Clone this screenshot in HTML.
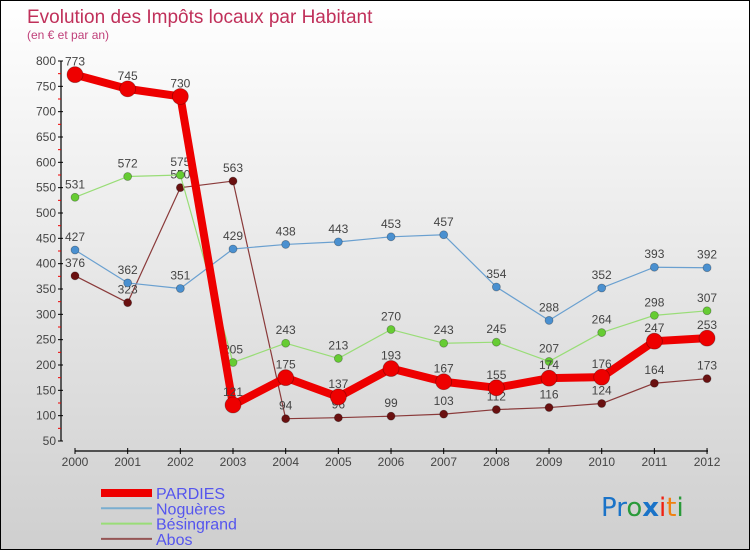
<!DOCTYPE html>
<html><head><meta charset="utf-8"><style>
body{margin:0}
#c{width:748px;height:548px;border:1px solid #000;background:linear-gradient(#ffffff,#cfcfcf);position:relative;font-family:"Liberation Sans",sans-serif;overflow:hidden}
</style></head><body>
<div id="c">
<svg id="s" width="748" height="548" xmlns="http://www.w3.org/2000/svg">
<text x="26" y="22" font-size="19" fill="#c0305a">Evolution des Impôts locaux par Habitant</text>
<text x="26" y="38" font-size="12" fill="#c0407a">(en € et par an)</text>
<text x="600" y="515" font-size="26" font-family="DejaVu Sans"><tspan fill="#1a73c8">Pr</tspan><tspan fill="#2a9a3a">o</tspan><tspan fill="#1a73c8" font-weight="bold">x</tspan><tspan fill="#f02010">i</tspan><tspan fill="#f08010">t</tspan><tspan fill="#2a9a3a">i</tspan></text>
</svg>
</div>
<script>
const years=["2000","2001","2002","2003","2004","2005","2006","2007","2008","2009","2010","2011","2012"];
const yTicks=[50,100,150,200,250,300,350,400,450,500,550,600,650,700,750,800];
const pardies=[773,745,730,121,175,137,193,167,155,174,176,247,253];
const nogueres=[427,362,351,429,438,443,453,457,354,288,352,393,392];
const besingrand=[531,572,575,205,243,213,270,243,245,207,264,298,307];
const abos=[376,323,550,563,94,96,99,103,112,116,124,164,173];
const svg=document.getElementById('s');const NS="http://www.w3.org/2000/svg";
function X(i){return 74+i*52.67;}
function Y(v){return 60+(800-v)*380/750;}
function mk(t,a,p){const e=document.createElementNS(NS,t);for(const k in a)e.setAttribute(k,a[k]);(p||svg).appendChild(e);return e;}
const ax=mk('g',{});


mk('line',{x1:60,y1:60,x2:60,y2:440,stroke:'#000','stroke-width':1.2},ax);
mk('line',{x1:74,y1:450,x2:707,y2:450,stroke:'#000','stroke-width':1.2},ax);
yTicks.forEach(v=>{const y=Y(v);mk('line',{x1:57,y1:y,x2:62,y2:y,stroke:'#000'},ax);
if(v<800)mk('line',{x1:57,y1:Y(v+25),x2:60,y2:Y(v+25),stroke:'#e00'},ax);
const t=mk('text',{x:55,y:y+4,'font-size':12,fill:'#444','text-anchor':'end'},ax);t.textContent=v;

});
years.forEach((yr,i)=>{const x=X(i);mk('line',{x1:x,y1:447,x2:x,y2:453,stroke:'#000'},ax);
const t=mk('text',{x:x,y:465,'font-size':12,fill:'#444','text-anchor':'middle'},ax);t.textContent=yr;

});
function series(name,vals,col,dot,w,r){const g=mk('g',{});


mk('polyline',{points:vals.map((v,i)=>X(i)+','+Y(v)).join(' '),fill:'none',stroke:col,'stroke-width':w,'stroke-linejoin':'round'},g);
vals.forEach((v,i)=>{const c=mk('circle',{cx:X(i),cy:Y(v),r:r,fill:dot,stroke:'rgba(0,0,0,0.3)','stroke-width':0.8},g);


const t=mk('text',{x:X(i),y:Y(v)-9,'font-size':12,fill:'#444','text-anchor':'middle'},g);t.textContent=v;

});}
series('abos',abos,'#8a3a3a','#6a1010',1.2,4);
series('besingrand',besingrand,'#99dd77','#66cc33',1.2,4);
series('nogueres',nogueres,'#6aa0d0','#4a90d0',1.2,4);
series('pardies',pardies,'#ee0000','#ee0000',8,8);
const lg=[['PARDIES','#ee0000',8],['Noguères','#7aaed0',2],['Bésingrand','#99dd77',2],['Abos','#955555',2]];
lg.forEach((l,i)=>{const y=492+i*15.3;const g=mk('g',{});


mk('line',{x1:100,y1:y,x2:151,y2:y,stroke:l[1],'stroke-width':l[2]},g);
const t=mk('text',{x:155,y:y+6,'font-size':16,fill:'#5555ee'},g);t.textContent=l[0];});
</script>
</body></html>
